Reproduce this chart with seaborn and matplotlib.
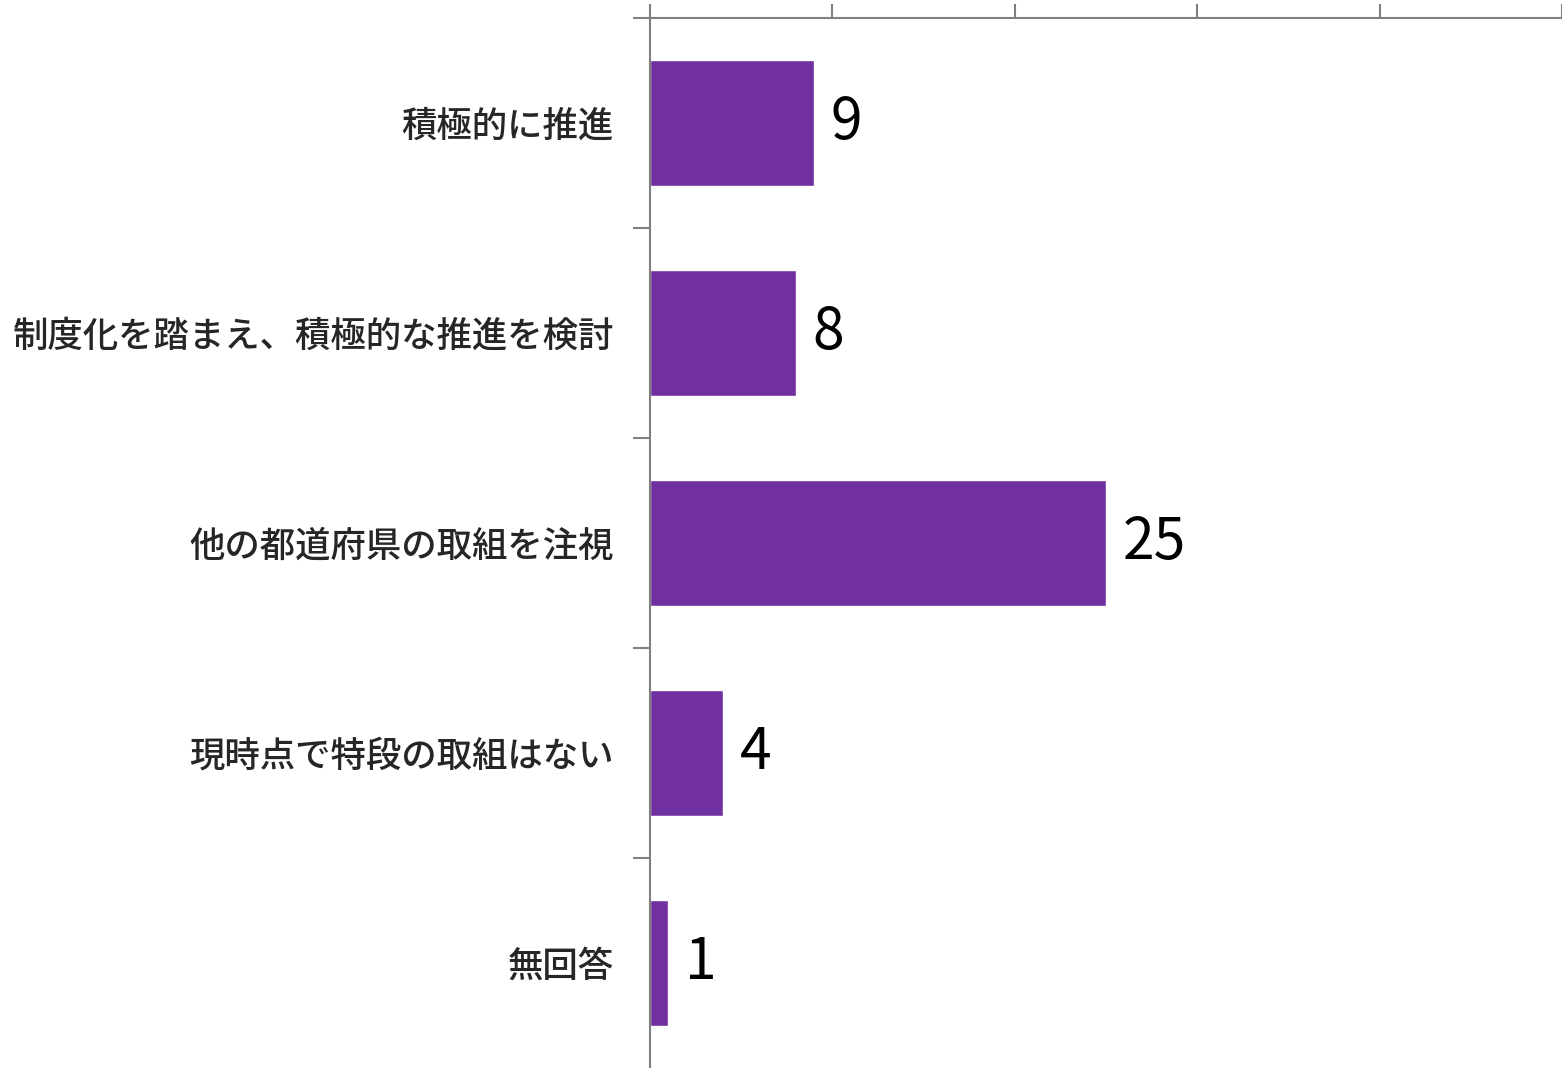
import matplotlib
matplotlib.use('Agg')
import matplotlib.pyplot as plt
import seaborn as sns
import pandas as pd
import numpy as np

categories = ['積極的に推進', '制度化を踏まえ、積極的な推進を検討', '他の都道府県の取組を注視',
              '現時点で特段の取組はない', '無回答']
counts = [9, 8, 25, 4, 1]

sns.set_theme(style='white')
plt.rcParams['font.family'] = ['Noto Sans CJK JP', 'DejaVu Sans']

df = pd.DataFrame({'category': categories, 'count': counts})

fig = plt.figure(figsize=(15.62, 10.68), dpi=100)
ax = fig.add_axes([650 / 1562, 0.0, 1 - 650 / 1562, 1 - 18 / 1068])
sns.barplot(data=df, x='count', y='category', color='#7030a0', width=0.6, saturation=1, ax=ax)

ax.set_xlim(0, 50)
ax.set_ylim(len(categories) - 0.5, -0.5)
ax.xaxis.tick_top()
ax.set_xticks(np.arange(0, 51, 10))
ax.set_xticklabels([])
ax.set_yticks(range(len(categories)))
ax.set_yticklabels(categories, fontsize=25.5, fontweight='medium')
# boundary ticks between categories (none at the very bottom)
ax.set_yticks(np.arange(-0.5, len(categories) - 1, 1), minor=True)
ax.tick_params(axis='y', which='major', length=0, pad=26)
ax.tick_params(axis='y', which='minor', length=12, width=1.5, color='#808080', direction='out', left=True)
ax.tick_params(axis='x', length=10, width=1.5, color='#808080', direction='out', top=True)
ax.set_xlabel('')
ax.set_ylabel('')

for s in ['right', 'bottom']:
    ax.spines[s].set_visible(False)
for s in ['top', 'left']:
    ax.spines[s].set_color('#808080')
    ax.spines[s].set_linewidth(1.5)

for i, v in enumerate(counts):
    ax.text(v + 0.9, i, str(v), va='center', ha='left', fontsize=41, color='black')

fig.savefig('out.png', dpi=100)
